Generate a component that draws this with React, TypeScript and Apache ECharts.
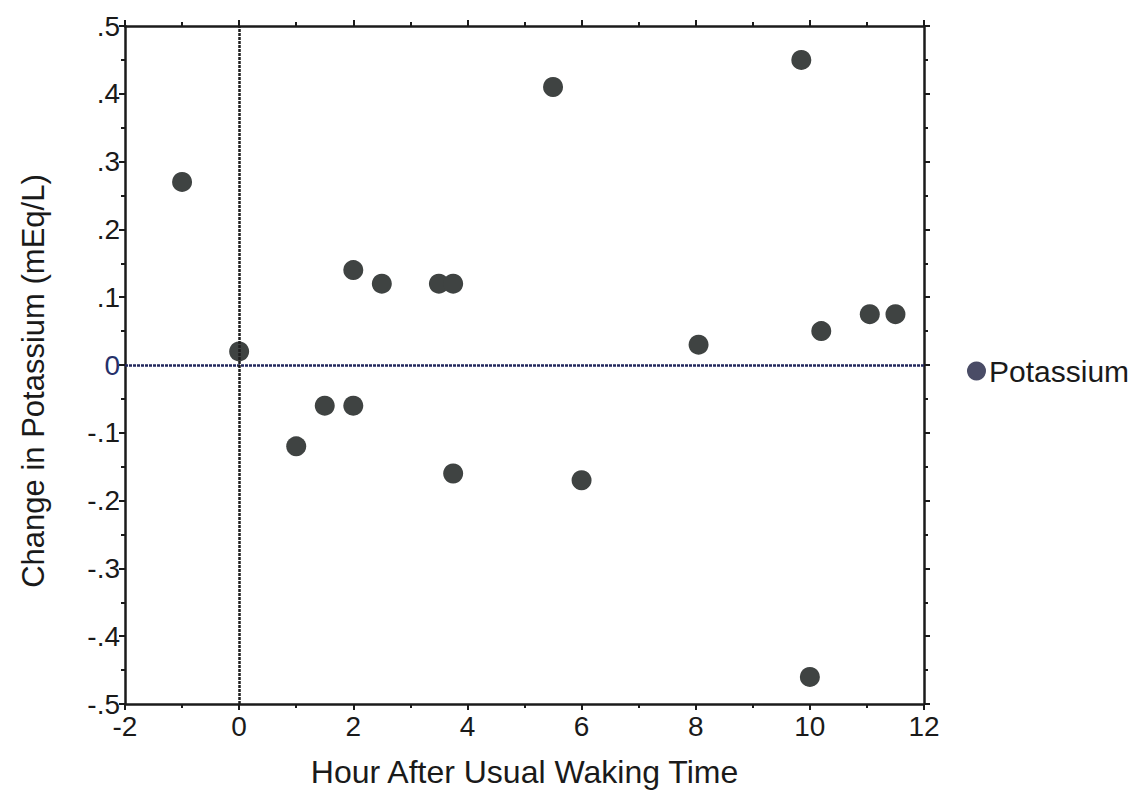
import React, { useEffect, useRef } from "react";
import * as echarts from "echarts";

const hours = [-1.0, 0.0, 1.0, 1.5, 2.0, 2.0, 2.5, 3.5, 3.75, 3.75, 5.5, 6.0, 8.05, 9.85, 10.0, 10.2, 11.05, 11.5];
const potassiumChange = [0.27, 0.02, -0.12, -0.06, -0.06, 0.14, 0.12, 0.12, 0.12, -0.16, 0.41, -0.17, 0.03, 0.45, -0.46, 0.05, 0.075, 0.075];
const seriesName = "Potassium";
const xTitle = "Hour After Usual Waking Time";
const yTitle = "Change in Potassium (mEq/L)";

const FONT = "'Liberation Sans', Arial, Helvetica, sans-serif";
const AXIS_COLOR = "#1b1b1b";

function fmtY(v: number): string {
  const r = Math.round(v * 10) / 10;
  if (Math.abs(r) < 1e-9) return "{z|0}";
  return r.toFixed(1).replace(/^(-?)0\./, "$1.");
}

export default function App() {
  const ref = useRef<HTMLDivElement>(null);
  useEffect(() => {
    if (!ref.current) return;
    const chart = echarts.init(ref.current, undefined, { renderer: "svg" });
    const data = hours.map((h, i) => [h, potassiumChange[i]]);
    const axisLine = { show: true, onZero: false, lineStyle: { color: AXIS_COLOR, width: 2.5 } };
    const tickStyle = { color: AXIS_COLOR, width: 2 };
    chart.setOption({
      animation: false,
      backgroundColor: "#ffffff",
      grid: { left: 125, right: 222, top: 26, bottom: 89, containLabel: false },
      legend: {
        orient: "vertical",
        left: 962,
        top: 351,
        icon: "circle",
        itemWidth: 19,
        itemHeight: 19,
        itemGap: 8,
        textStyle: { fontFamily: FONT, fontSize: 30, color: "#1a1a1a", padding: [0, 0, 0, -2] },
        data: [{ name: seriesName, itemStyle: { color: "#4a4c66" } }],
      },
      graphic: [
        {
          type: "text",
          x: 33,
          y: 381,
          rotation: Math.PI / 2,
          style: {
            text: yTitle,
            fontFamily: FONT,
            fontSize: 31,
            fill: "#1a1a1a",
            align: "center",
            verticalAlign: "middle",
          },
        },
      ],
      xAxis: [
        {
          type: "value",
          min: -2,
          max: 12,
          interval: 2,
          position: "bottom",
          name: xTitle,
          nameLocation: "middle",
          nameGap: 52,
          nameTextStyle: { fontFamily: FONT, fontSize: 32, color: "#1a1a1a" },
          axisLine,
          axisTick: { show: true, length: 6, inside: false, lineStyle: tickStyle },
          minorTick: { show: true, splitNumber: 2, length: 4, lineStyle: tickStyle },
          axisLabel: { fontFamily: FONT, fontSize: 28, color: "#1a1a1a", margin: 8 },
          splitLine: { show: false },
        },
        {
          type: "value",
          min: -2,
          max: 12,
          interval: 2,
          position: "top",
          axisLine,
          axisTick: { show: true, length: 6, lineStyle: tickStyle },
          minorTick: { show: true, splitNumber: 2, length: 4, lineStyle: tickStyle },
          axisLabel: { show: false },
          splitLine: { show: false },
        },
      ],
      yAxis: [
        {
          type: "value",
          min: -0.5,
          max: 0.5,
          interval: 0.1,
          position: "left",
          axisLine,
          axisTick: { show: true, length: 6, lineStyle: tickStyle },
          minorTick: { show: true, splitNumber: 2, length: 4, lineStyle: tickStyle },
          axisLabel: {
            fontFamily: FONT,
            fontSize: 28,
            color: "#1a1a1a",
            margin: 5,
            formatter: fmtY,
            rich: { z: { fontFamily: FONT, fontSize: 28, color: "#26306a" } },
          },
          splitLine: { show: false },
        },
        {
          type: "value",
          min: -0.5,
          max: 0.5,
          interval: 0.1,
          position: "right",
          axisLine,
          axisTick: { show: true, length: 6, lineStyle: tickStyle },
          minorTick: { show: true, splitNumber: 2, length: 4, lineStyle: tickStyle },
          axisLabel: { show: false },
          splitLine: { show: false },
        },
      ],
      series: [
        {
          name: seriesName,
          type: "scatter",
          xAxisIndex: 0,
          yAxisIndex: 0,
          symbol: "circle",
          symbolSize: 20,
          itemStyle: { color: "#3f4342", opacity: 1 },
          data,
          markLine: {
            silent: true,
            symbol: "none",
            label: { show: false },
            data: [
              { yAxis: 0, lineStyle: { color: "#23295e", width: 2.5, type: [3, 1] } },
              { xAxis: 0, lineStyle: { color: "#1e1e1e", width: 2.5, type: [3, 1] } },
            ],
          },
          z: 3,
        },
      ],
    });
    return () => chart.dispose();
  }, []);
  return (
    <div
      ref={ref}
      style={{ position: "fixed", left: 0, top: 0, width: "1146px", height: "793px", background: "#fff" }}
    />
  );
}
